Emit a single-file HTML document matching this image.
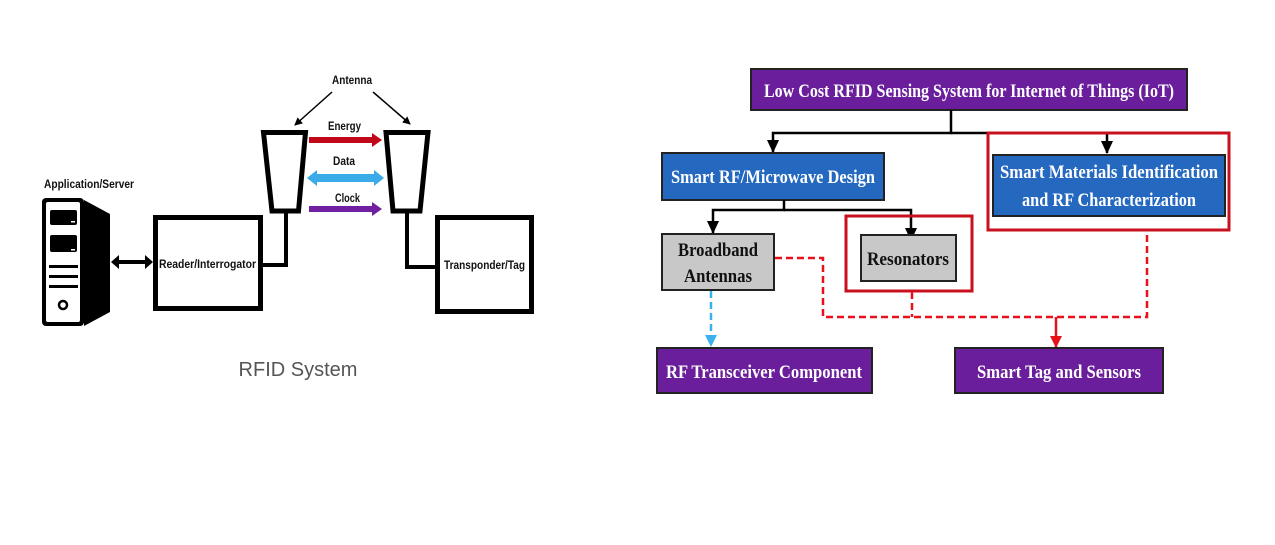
<!DOCTYPE html>
<html><head><meta charset="utf-8"><style>
html,body{margin:0;padding:0;background:#fff;width:1275px;height:545px;overflow:hidden}
svg{display:block}
.l{font-family:"Liberation Sans",sans-serif;font-weight:bold;font-size:12px;fill:#111}
.r{font-family:"Liberation Serif",serif;font-weight:bold;font-size:19px;fill:#fff}
</style></head><body>
<svg width="1275" height="545" viewBox="0 0 1275 545">
<defs>
<marker id="ab" markerWidth="8" markerHeight="8" refX="7" refY="4" orient="auto" markerUnits="userSpaceOnUse"><path d="M0,0 L8,4 L0,8 z" fill="#000"/></marker>
<marker id="ak" markerWidth="14" markerHeight="12" refX="12" refY="6" orient="auto" markerUnits="userSpaceOnUse"><path d="M0,0 L13,6 L0,12 z" fill="#000"/></marker>
<marker id="ar" markerWidth="12" markerHeight="12" refX="11" refY="6" orient="auto" markerUnits="userSpaceOnUse"><path d="M0,0 L12,6 L0,12 z" fill="#e8101a"/></marker>
<marker id="abl" markerWidth="12" markerHeight="12" refX="11" refY="6" orient="auto" markerUnits="userSpaceOnUse"><path d="M0,0 L12,6 L0,12 z" fill="#3ab0ee"/></marker>
</defs>
<!-- LEFT DIAGRAM -->
<text class="l" x="44" y="188" textLength="90" lengthAdjust="spacingAndGlyphs">Application/Server</text>
<rect x="42" y="198" width="42" height="128" rx="4" fill="#000"/>
<rect x="46" y="202" width="34" height="120" rx="2" fill="#fff"/>
<polygon points="84,200 110,214 110,312 84,326" fill="#000"/>
<rect x="50" y="210" width="27" height="15" rx="2" fill="#000"/>
<rect x="50" y="235" width="27" height="17" rx="2" fill="#000"/>
<rect x="71" y="221" width="4" height="1.5" fill="#fff"/>
<rect x="71" y="249" width="4" height="1.5" fill="#fff"/>
<rect x="49" y="265" width="29" height="3" fill="#000"/>
<rect x="49" y="275" width="29" height="3" fill="#000"/>
<rect x="49" y="285" width="29" height="3" fill="#000"/>
<circle cx="63" cy="305" r="4" fill="none" stroke="#000" stroke-width="2.5"/>
<line x1="114" y1="262" x2="150" y2="262" stroke="#000" stroke-width="4"/>
<polygon points="111,262 119,255 119,269" fill="#000"/>
<polygon points="153,262 145,255 145,269" fill="#000"/>
<rect x="155.5" y="217.5" width="105" height="91" fill="none" stroke="#000" stroke-width="5"/>
<text class="l" x="159" y="268" textLength="97" lengthAdjust="spacingAndGlyphs">Reader/Interrogator</text>
<rect x="437.5" y="217.5" width="94" height="94" fill="none" stroke="#000" stroke-width="5"/>
<text class="l" x="444" y="269" textLength="81" lengthAdjust="spacingAndGlyphs">Transponder/Tag</text>
<text class="l" x="332" y="84" textLength="40" lengthAdjust="spacingAndGlyphs">Antenna</text>
<line x1="332" y1="92" x2="295" y2="125" stroke="#000" stroke-width="1.5" marker-end="url(#ab)"/>
<line x1="373" y1="92" x2="410" y2="124" stroke="#000" stroke-width="1.5" marker-end="url(#ab)"/>
<polygon points="263.5,132.5 305.5,132.5 298.5,211 272,211" fill="none" stroke="#000" stroke-width="5"/>
<polygon points="386,132.5 428,132.5 420,211 393,211" fill="none" stroke="#000" stroke-width="5"/>
<polyline points="286,212 286,265 261,265" fill="none" stroke="#000" stroke-width="4"/>
<polyline points="407,212 407,267 437,267" fill="none" stroke="#000" stroke-width="4"/>
<text class="l" x="328" y="130" textLength="33" lengthAdjust="spacingAndGlyphs">Energy</text>
<line x1="309" y1="140" x2="374" y2="140" stroke="#c00818" stroke-width="6"/>
<polygon points="382,140 372,133 372,147" fill="#c00818"/>
<text class="l" x="333" y="165" textLength="22" lengthAdjust="spacingAndGlyphs">Data</text>
<line x1="314" y1="178" x2="376" y2="178" stroke="#38abe8" stroke-width="8"/>
<polygon points="307,178 317,170 317,186" fill="#38abe8"/>
<polygon points="384,178 374,170 374,186" fill="#38abe8"/>
<text class="l" x="335" y="202" textLength="25" lengthAdjust="spacingAndGlyphs">Clock</text>
<line x1="309" y1="209" x2="374" y2="209" stroke="#7020a0" stroke-width="6"/>
<polygon points="382,209 372,202 372,216" fill="#7020a0"/>
<text x="298" y="376" text-anchor="middle" font-family="Liberation Sans,sans-serif" font-size="20" fill="#555">RFID System</text>
<!-- RIGHT DIAGRAM -->
<rect x="751" y="69" width="436" height="41" fill="#6a1e9c" stroke="#222" stroke-width="2"/>
<text class="r" x="969" y="97" text-anchor="middle" textLength="410" lengthAdjust="spacingAndGlyphs">Low Cost RFID Sensing System for Internet of Things (IoT)</text>
<polyline points="951,110 951,133 773,133 773,152" fill="none" stroke="#000" stroke-width="2.5" marker-end="url(#ak)"/>
<polyline points="951,133 1107,133 1107,153" fill="none" stroke="#000" stroke-width="2.5" marker-end="url(#ak)"/>
<rect x="988" y="133" width="241" height="97" fill="none" stroke="#c8101e" stroke-width="3"/>
<rect x="662" y="153" width="222" height="47" fill="#2468c0" stroke="#222" stroke-width="2"/>
<text class="r" x="773" y="183" text-anchor="middle" textLength="204" lengthAdjust="spacingAndGlyphs">Smart RF/Microwave Design</text>
<rect x="993" y="155" width="232" height="61" fill="#2468c0" stroke="#222" stroke-width="2"/>
<text class="r" x="1109" y="178" text-anchor="middle" textLength="218" lengthAdjust="spacingAndGlyphs">Smart Materials Identification</text>
<text class="r" x="1109" y="206" text-anchor="middle" textLength="174" lengthAdjust="spacingAndGlyphs">and RF Characterization</text>
<polyline points="784,200 784,210 713,210 713,233" fill="none" stroke="#000" stroke-width="2.5" marker-end="url(#ak)"/>
<polyline points="784,210 911,210 911,240" fill="none" stroke="#000" stroke-width="2.5" marker-end="url(#ak)"/>
<rect x="846" y="216" width="126" height="75" fill="none" stroke="#c8101e" stroke-width="3"/>
<rect x="662" y="234" width="112" height="56" fill="#c8c8c8" stroke="#222" stroke-width="2"/>
<text class="r" x="718" y="256" text-anchor="middle" style="fill:#111" textLength="80" lengthAdjust="spacingAndGlyphs">Broadband</text>
<text class="r" x="718" y="282" text-anchor="middle" style="fill:#111" textLength="68" lengthAdjust="spacingAndGlyphs">Antennas</text>
<rect x="861" y="235" width="95" height="46" fill="#c8c8c8" stroke="#222" stroke-width="2"/>
<text class="r" x="908" y="265" text-anchor="middle" style="fill:#111" textLength="82" lengthAdjust="spacingAndGlyphs">Resonators</text>
<g fill="none" stroke="#e8101a" stroke-width="2.5" stroke-dasharray="7,4">
<polyline points="775,258 823,258 823,317 1147,317 1147,231"/>
<line x1="912" y1="292" x2="912" y2="317"/>
</g>
<line x1="1056" y1="317" x2="1056" y2="347" stroke="#e8101a" stroke-width="2.5" marker-end="url(#ar)"/>
<line x1="711" y1="291" x2="711" y2="346" stroke="#3ab0ee" stroke-width="2.5" stroke-dasharray="7,4" marker-end="url(#abl)"/>
<rect x="657" y="348" width="215" height="45" fill="#6a1e9c" stroke="#222" stroke-width="2"/>
<text class="r" x="764" y="378" text-anchor="middle" textLength="196" lengthAdjust="spacingAndGlyphs">RF Transceiver Component</text>
<rect x="955" y="348" width="208" height="45" fill="#6a1e9c" stroke="#222" stroke-width="2"/>
<text class="r" x="1059" y="378" text-anchor="middle" textLength="164" lengthAdjust="spacingAndGlyphs">Smart Tag and Sensors</text>
</svg>
</body></html>
